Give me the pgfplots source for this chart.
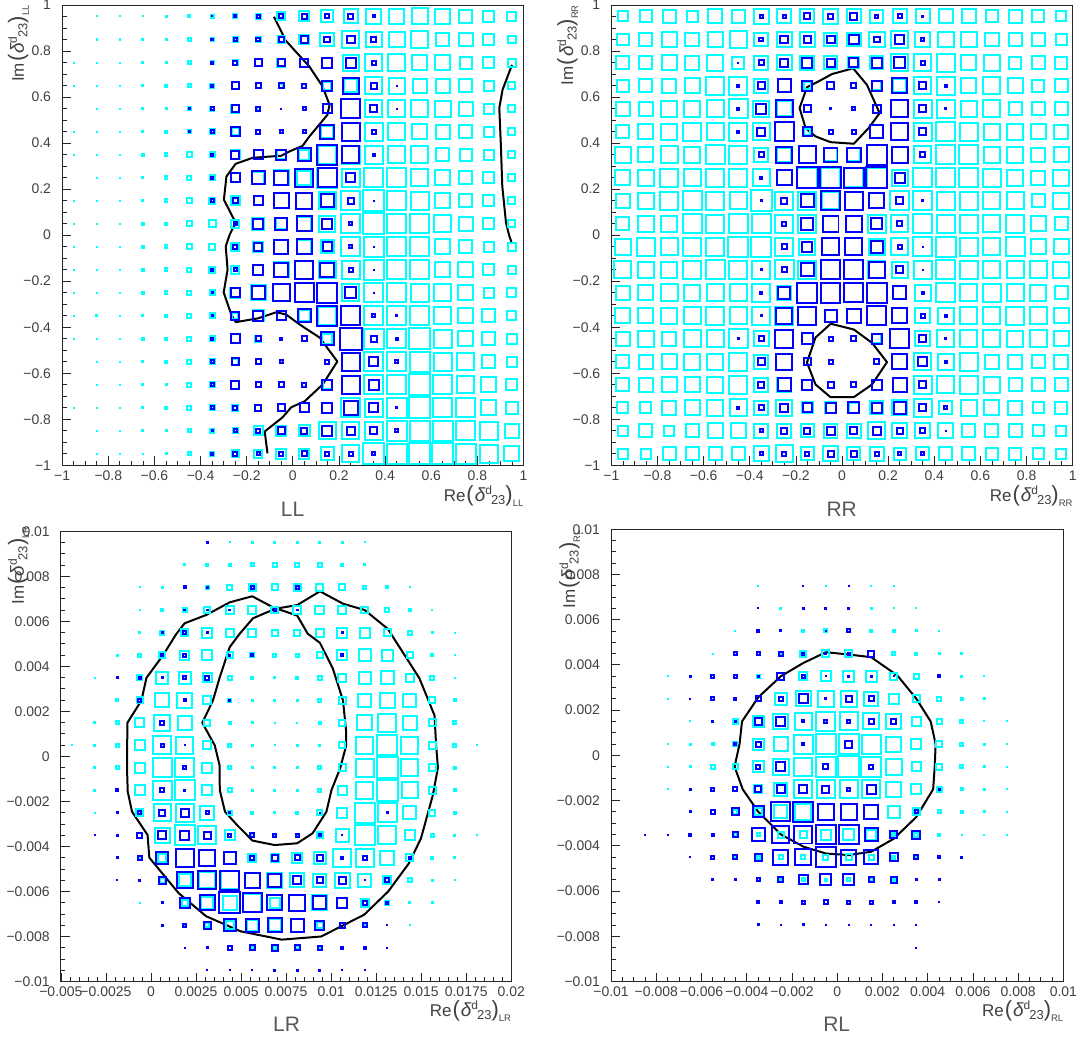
\documentclass[border=0pt]{standalone}
\usepackage{pgfplots}
\usepackage{pgfplotstable}
\usepackage{fontspec}
\setmainfont{Liberation Sans}
\pgfplotsset{compat=1.18}
\definecolor{cc}{RGB}{0,255,255}
\definecolor{bb}{RGB}{0,0,255}
\definecolor{tx}{gray}{0.25}
\newcommand\lab[2]{#1\kern1pt{\fontsize{22}{22}\selectfont (}\kern1pt{\itshape\fontsize{19}{19}\selectfont δ}\raisebox{7pt}{\fontsize{12}{12}\selectfont d}\kern-1pt\raisebox{-3.5pt}{\fontsize{13}{13}\selectfont 23}{\fontsize{22}{22}\selectfont )}\raisebox{-5pt}{\fontsize{9.5}{9.5}\selectfont #2}}
\pgfplotsset{
 panel/.style={scale only axis,clip=false,axis line style={line width=.9pt,black!85},
  tick align=inside,xtick pos=lower,ytick pos=left,major tick length=9pt,minor tick length=4.5pt,
  tick style={line width=.8pt,black!85},
  tick label style={font=\fontsize{14}{14}\selectfont,text=tx},
  xticklabel style={inner sep=0pt,anchor=north,text height=10pt},xticklabel shift=5pt,
  yticklabel style={inner sep=0pt,anchor=east},yticklabel shift=11pt},
 cellc/.style={scatter,only marks,mark=square,draw=cc,
  mark options={solid,draw=cc,fill=none,line width=2pt},
  visualization depends on={max(\thisrow{c}-2,0.02)/2 \as \ms},
  scatter/@pre marker code/.code={\scope[/tikz/mark size=\ms]},
  scatter/@post marker code/.code={\endscope},
  restrict expr to domain={\thisrow{c}}{0.5:100}},
 cellb/.style={scatter,only marks,mark=square,draw=bb,
  mark options={solid,draw=bb,fill=none,line width=2pt},
  visualization depends on={max(\thisrow{b}-2,0.02)/2 \as \ms},
  scatter/@pre marker code/.code={\scope[/tikz/mark size=\ms]},
  scatter/@post marker code/.code={\endscope},
  restrict expr to domain={\thisrow{b}}{0.5:100}},
 curve/.style={black,line width=2pt,no marks,line join=round}
}
\pgfplotstableread[row sep=\\]{x y c b\\
-.85 .95 2 0\\-.75 .95 2 0\\-.65 .95 2 0\\-.55 .95 3 0\\-.45 .95 4 0\\-.35 .95 5 2\\-.25 .95 6 4\\-.15 .95 7 5\\-.05 .95 10 6\\.05 .95 12 7\\.15 .95 14 6\\.25 .95 16 7\\.35 .95 17 4\\.45 .95 17 0\\.55 .95 18 0\\.65 .95 17 0\\.75 .95 15 0\\.85 .95 13 0\\.95 .95 11 0\\
-.85 .85 2 0\\-.75 .85 2 0\\-.65 .85 3 0\\-.55 .85 3 0\\-.45 .85 5 0\\-.35 .85 5 4\\-.25 .85 7 5\\-.15 .85 7 6\\-.05 .85 9 7\\.05 .85 12 9\\.15 .85 16 8\\.25 .85 19 10\\.35 .85 18 7\\.45 .85 18 0\\.55 .85 19 0\\.65 .85 15 0\\.75 .85 16 0\\.85 .85 13 0\\.95 .85 10 0\\
-.95 .75 2 0\\-.85 .75 2 0\\-.75 .75 2 0\\-.65 .75 3 0\\-.55 .75 3 0\\-.45 .75 5 0\\-.35 .75 5 4\\-.25 .75 7 6\\-.15 .75 9 9\\-.05 .75 10 9\\.05 .75 10 10\\.15 .75 12 12\\.25 .75 18 12\\.35 .75 19 6\\.45 .75 19 0\\.55 .75 17 0\\.65 .75 17 0\\.75 .75 14 0\\.85 .75 13 0\\.95 .75 10 0\\
-.95 .65 2 0\\-.85 .65 2 0\\-.75 .65 2 0\\-.65 .65 3 0\\-.55 .65 4 0\\-.45 .65 5 0\\-.35 .65 6 4\\-.25 .65 9 9\\-.15 .65 7 7\\-.05 .65 6 7\\.05 .65 0 6\\.15 .65 10 12\\.25 .65 15 18\\.35 .65 19 8\\.45 .65 18 2\\.55 .65 16 0\\.65 .65 16 0\\.75 .65 15 0\\.85 .65 12 0\\.95 .65 9 0\\
-.85 .55 2 0\\-.75 .55 2 0\\-.65 .55 3 0\\-.55 .55 3 0\\-.45 .55 5 3\\-.35 .55 6 5\\-.25 .55 10 9\\-.15 .55 5 6\\-.05 .55 0 1\\.05 .55 0 5\\.15 .55 0 11\\.25 .55 21 21\\.35 .55 19 9\\.45 .55 19 1\\.55 .55 19 0\\.65 .55 18 0\\.75 .55 16 0\\.85 .55 12 0\\.95 .55 9 0\\
-.95 .45 2 0\\-.85 .45 2 0\\-.75 .45 2 0\\-.65 .45 3 0\\-.55 .45 4 0\\-.45 .45 5 3\\-.35 .45 7 5\\-.25 .45 9 11\\-.15 .45 6 6\\-.05 .45 0 5\\.05 .45 0 5\\.15 .45 14 16\\.25 .45 0 20\\.35 .45 20 6\\.45 .45 19 0\\.55 .45 17 0\\.65 .45 16 0\\.75 .45 15 0\\.85 .45 12 0\\.95 .45 9 0\\
-.95 .35 2 0\\-.85 .35 2 0\\-.75 .35 2 0\\-.65 .35 4 0\\-.55 .35 5 0\\-.45 .35 7 0\\-.35 .35 7 4\\-.25 .35 11 10\\-.15 .35 11 11\\-.05 .35 11 12\\.05 .35 12 15\\.15 .35 20 22\\.25 .35 20 19\\.35 .35 20 4\\.45 .35 19 0\\.55 .35 19 0\\.65 .35 15 0\\.75 .35 14 0\\.85 .35 12 0\\.95 .35 9 0\\
-.85 .25 2 0\\-.75 .25 2 0\\-.65 .25 3 0\\-.55 .25 5 0\\-.45 .25 6 0\\-.35 .25 7 4\\-.25 .25 11 11\\-.15 .25 14 15\\-.05 .25 17 16\\.05 .25 16 20\\.15 .25 22 21\\.25 .25 20 11\\.35 .25 21 0\\.45 .25 21 0\\.55 .25 19 0\\.65 .25 17 0\\.75 .25 15 0\\.85 .25 13 0\\.95 .25 9 0\\
-.95 .15 2 0\\-.85 .15 2 0\\-.75 .15 2 0\\-.65 .15 3 0\\-.55 .15 5 0\\-.45 .15 7 0\\-.35 .15 8 5\\-.25 .15 11 7\\-.15 .15 11 11\\-.05 .15 17 17\\.05 .15 0 18\\.15 .15 19 15\\.25 .15 21 8\\.35 .15 23 1\\.45 .15 21 0\\.55 .15 20 0\\.65 .15 17 0\\.75 .15 15 0\\.85 .15 13 0\\.95 .15 9 0\\
-.95 .05 2 0\\-.85 .05 2 0\\-.75 .05 2 0\\-.65 .05 4 0\\-.55 .05 4 0\\-.45 .05 7 0\\-.35 .05 9 0\\-.25 .05 10 5\\-.15 .05 14 12\\-.05 .05 13 14\\.05 .05 16 17\\.15 .05 18 12\\.25 .05 21 5\\.35 .05 23 0\\.45 .05 21 0\\.55 .05 21 0\\.65 .05 19 0\\.75 .05 16 0\\.85 .05 13 0\\.95 .05 9 0\\
-.95 -.05 2 0\\-.85 -.05 2 0\\-.75 -.05 2 0\\-.65 -.05 4 0\\-.55 -.05 5 0\\-.45 -.05 7 0\\-.35 -.05 8 0\\-.25 -.05 10 6\\-.15 -.05 12 10\\-.05 -.05 16 16\\.05 -.05 16 17\\.15 -.05 15 11\\.25 -.05 21 5\\.35 -.05 22 1\\.45 -.05 21 0\\.55 -.05 21 0\\.65 -.05 17 0\\.75 -.05 15 0\\.85 -.05 12 0\\.95 -.05 10 0\\
-.95 -.15 2 0\\-.85 -.15 2 0\\-.75 -.15 2 0\\-.65 -.15 4 0\\-.55 -.15 5 0\\-.45 -.15 6 0\\-.35 -.15 8 4\\-.25 -.15 10 5\\-.15 -.15 12 12\\-.05 -.15 17 16\\.05 -.15 0 20\\.15 -.15 19 16\\.25 -.15 20 6\\.35 -.15 22 1\\.45 -.15 21 0\\.55 -.15 21 0\\.65 -.15 17 0\\.75 -.15 17 0\\.85 -.15 13 0\\.95 -.15 10 0\\
-.95 -.25 2 0\\-.85 -.25 2 0\\-.75 -.25 2 0\\-.65 -.25 4 0\\-.55 -.25 5 0\\-.45 -.25 6 0\\-.35 -.25 7 3\\-.25 -.25 12 11\\-.15 -.25 17 15\\-.05 -.25 19 19\\.05 -.25 21 21\\.15 -.25 0 22\\.25 -.25 19 13\\.35 -.25 21 2\\.45 -.25 21 0\\.55 -.25 20 0\\.65 -.25 19 0\\.75 -.25 17 0\\.85 -.25 12 0\\.95 -.25 11 0\\
-.95 -.35 1 0\\-.85 -.35 3 0\\-.75 -.35 2 0\\-.65 -.35 3 0\\-.55 -.35 4 0\\-.45 -.35 6 0\\-.35 -.35 7 3\\-.25 -.35 8 10\\-.15 -.35 13 12\\-.05 -.35 11 11\\.05 -.35 13 15\\.15 -.35 20 22\\.25 -.35 0 21\\.35 -.35 21 5\\.45 -.35 21 3\\.55 -.35 21 0\\.65 -.35 19 0\\.75 -.35 17 0\\.85 -.35 15 0\\.95 -.35 11 0\\
-.95 -.45 2 0\\-.85 -.45 2 0\\-.75 -.45 2 0\\-.65 -.45 4 0\\-.55 -.45 4 0\\-.45 -.45 6 0\\-.35 -.45 7 4\\-.25 -.45 11 11\\-.15 -.45 8 7\\-.05 -.45 0 4\\.05 -.45 0 7\\.15 -.45 12 15\\.25 -.45 0 24\\.35 -.45 22 8\\.45 -.45 21 4\\.55 -.45 23 0\\.65 -.45 20 0\\.75 -.45 17 0\\.85 -.45 15 0\\.95 -.45 12 0\\
-.85 -.55 2 0\\-.75 -.55 2 0\\-.65 -.55 3 0\\-.55 -.55 4 0\\-.45 -.55 6 0\\-.35 -.55 7 5\\-.25 -.55 8 9\\-.15 -.55 7 7\\-.05 -.55 0 5\\.15 -.55 6 6\\.25 -.55 0 20\\.35 -.55 21 11\\.45 -.55 21 5\\.55 -.55 22 0\\.65 -.55 20 0\\.75 -.55 19 0\\.85 -.55 15 0\\.95 -.55 12 0\\
-.85 -.65 2 0\\-.75 -.65 2 0\\-.65 -.65 3 0\\-.55 -.65 3 0\\-.45 -.65 6 0\\-.35 -.65 7 5\\-.25 -.65 10 10\\-.15 -.65 0 7\\-.05 -.65 0 7\\.05 -.65 0 6\\.15 -.65 11 12\\.25 -.65 0 20\\.35 -.65 21 12\\.45 -.65 21 0\\.55 -.65 23 0\\.65 -.65 21 0\\.75 -.65 19 0\\.85 -.65 17 0\\.95 -.65 13 0\\
-.95 -.75 1 0\\-.85 -.75 2 0\\-.75 -.75 2 0\\-.65 -.75 3 0\\-.55 -.75 4 0\\-.45 -.75 6 0\\-.35 -.75 7 5\\-.25 -.75 8 6\\-.15 -.75 0 8\\-.05 -.75 9 9\\.05 -.75 0 11\\.15 -.75 0 12\\.25 -.75 21 16\\.35 -.75 20 11\\.45 -.75 22 3\\.55 -.75 23 0\\.65 -.75 21 0\\.75 -.75 21 0\\.85 -.75 17 0\\.95 -.75 14 0\\
-.85 -.85 2 0\\-.75 -.85 2 0\\-.65 -.85 3 0\\-.55 -.85 3 0\\-.45 -.85 5 0\\-.35 -.85 6 3\\-.25 -.85 7 5\\-.15 -.85 11 6\\-.05 -.85 12 9\\.05 -.85 13 8\\.15 -.85 19 12\\.25 -.85 19 10\\.35 -.85 20 9\\.45 -.85 22 5\\.55 -.85 22 0\\.65 -.85 22 0\\.75 -.85 21 0\\.85 -.85 20 0\\.95 -.85 16 0\\
-.85 -.95 2 0\\-.75 -.95 2 0\\-.65 -.95 2 0\\-.55 -.95 3 0\\-.45 -.95 5 0\\-.35 -.95 6 4\\-.25 -.95 9 6\\-.15 -.95 10 5\\-.05 -.95 12 6\\.05 -.95 12 7\\.15 -.95 15 6\\.25 -.95 19 6\\.35 -.95 23 5\\.45 -.95 22 0\\.55 -.95 23 0\\.65 -.95 23 0\\.75 -.95 22 0\\.85 -.95 20 0\\.95 -.95 17 0\\
}\tLL
\pgfplotstableread[row sep=\\]{x y c b\\
-.95 .95 12 0\\-.85 .95 14 0\\-.75 .95 15 0\\-.65 .95 13 0\\-.55 .95 16 0\\-.45 .95 15 0\\-.35 .95 17 5\\-.25 .95 16 5\\-.15 .95 16 8\\-.05 .95 17 7\\.05 .95 16 9\\.15 .95 15 5\\.25 .95 16 6\\.35 .95 16 3\\.45 .95 16 0\\.55 .95 16 0\\.65 .95 14 0\\.75 .95 15 0\\.85 .95 14 0\\.95 .95 12 0\\
-.95 .85 14 0\\-.85 .85 15 0\\-.75 .85 17 0\\-.65 .85 16 0\\-.55 .85 17 0\\-.45 .85 19 0\\-.35 .85 16 6\\-.25 .85 17 10\\-.15 .85 17 9\\-.05 .85 15 10\\.05 .85 16 12\\.15 .85 18 8\\.25 .85 19 11\\.35 .85 17 5\\.45 .85 18 0\\.55 .85 18 0\\.65 .85 16 0\\.75 .85 15 0\\.85 .85 15 0\\.95 .85 13 0\\
-.95 .75 15 0\\-.85 .75 15 0\\-.75 .75 17 0\\-.65 .75 16 0\\-.55 .75 18 0\\-.45 .75 14 1\\-.35 .75 16 7\\-.25 .75 17 10\\-.15 .75 16 12\\-.05 .75 15 10\\.05 .75 13 11\\.15 .75 15 12\\.25 .75 19 13\\.35 .75 19 6\\.45 .75 20 0\\.55 .75 17 0\\.65 .75 18 0\\.75 .75 14 0\\.85 .75 15 0\\.95 .75 14 0\\
-.95 .65 14 0\\-.85 .65 15 0\\-.75 .65 16 0\\-.65 .65 17 0\\-.55 .65 20 0\\-.45 .65 20 4\\-.35 .65 16 9\\-.25 .65 15 15\\-.15 .65 9 12\\-.05 .65 0 9\\.05 .65 0 7\\.15 .65 11 12\\.25 .65 15 17\\.35 .65 19 9\\.45 .65 20 4\\.55 .65 17 0\\.65 .65 19 0\\.75 .65 17 0\\.85 .65 14 0\\.95 .65 15 0\\
-.95 .55 16 0\\-.85 .55 16 0\\-.75 .55 18 0\\-.65 .55 18 0\\-.55 .55 19 0\\-.45 .55 21 4\\-.35 .55 18 12\\-.25 .55 17 19\\-.15 .55 0 9\\-.05 .55 0 3\\.05 .55 0 5\\.15 .55 0 10\\.25 .55 0 19\\.35 .55 20 9\\.45 .55 20 3\\.55 .55 18 0\\.65 .55 19 0\\.75 .55 15 0\\.85 .55 15 0\\.95 .55 15 0\\
-.95 .45 15 0\\-.85 .45 17 0\\-.75 .45 18 0\\-.65 .45 20 0\\-.55 .45 19 0\\-.45 .45 20 4\\-.35 .45 19 10\\-.25 .45 0 21\\-.15 .45 8 11\\-.05 .45 0 6\\.05 .45 0 6\\.15 .45 15 15\\.25 .45 0 19\\.35 .45 20 9\\.45 .45 21 0\\.55 .45 20 0\\.65 .45 18 0\\.75 .45 18 0\\.85 .45 17 0\\.95 .45 16 0\\
-.95 .35 18 0\\-.85 .35 17 0\\-.75 .35 19 0\\-.65 .35 18 0\\-.55 .35 21 0\\-.45 .35 20 0\\-.35 .35 16 7\\-.25 .35 16 18\\-.15 .35 19 19\\-.05 .35 15 16\\.05 .35 15 16\\.15 .35 0 22\\.25 .35 18 18\\.35 .35 19 7\\.45 .35 21 0\\.55 .35 21 0\\.65 .35 18 0\\.75 .35 18 0\\.85 .35 16 0\\.95 .35 17 0\\
-.95 .25 17 0\\-.85 .25 18 0\\-.75 .25 20 0\\-.65 .25 19 0\\-.55 .25 20 0\\-.45 .25 20 0\\-.35 .25 19 4\\-.25 .25 17 17\\-.15 .25 22 23\\-.05 .25 22 23\\.05 .25 21 22\\.15 .25 22 23\\.25 .25 18 12\\.35 .25 21 0\\.45 .25 21 0\\.55 .25 21 0\\.65 .25 20 0\\.75 .25 18 0\\.85 .25 16 0\\.95 .25 18 0\\
-.95 .15 16 0\\-.85 .15 18 0\\-.75 .15 20 0\\-.65 .15 21 0\\-.55 .15 20 0\\-.45 .15 19 0\\-.35 .15 23 3\\-.25 .15 20 8\\-.15 .15 20 15\\-.05 .15 19 21\\.05 .15 20 20\\.15 .15 17 17\\.25 .15 21 9\\.35 .15 21 3\\.45 .15 20 0\\.55 .15 20 0\\.65 .15 19 0\\.75 .15 19 0\\.85 .15 15 0\\.95 .15 18 0\\
-.95 .05 15 0\\-.85 .05 18 0\\-.75 .05 18 0\\-.65 .05 21 0\\-.55 .05 20 0\\-.45 .05 21 0\\-.35 .05 21 0\\-.25 .05 20 6\\-.15 .05 20 14\\-.05 .05 18 18\\.05 .05 18 18\\.15 .05 20 13\\.25 .05 19 7\\.35 .05 21 0\\.45 .05 20 0\\.55 .05 20 0\\.65 .05 19 0\\.75 .05 20 0\\.85 .05 17 0\\.95 .05 15 0\\
-.95 -.05 18 0\\-.85 -.05 20 0\\-.75 -.05 19 0\\-.65 -.05 20 0\\-.55 -.05 20 0\\-.45 -.05 22 0\\-.35 -.05 22 0\\-.25 -.05 20 7\\-.15 -.05 18 12\\-.05 -.05 0 19\\.05 -.05 0 19\\.15 -.05 18 14\\.25 -.05 19 6\\.35 -.05 21 2\\.45 -.05 22 0\\.55 -.05 20 0\\.65 -.05 19 0\\.75 -.05 21 0\\.85 -.05 17 0\\.95 -.05 17 0\\
-.95 -.15 19 0\\-.85 -.15 18 0\\-.75 -.15 18 0\\-.65 -.15 20 0\\-.55 -.15 21 0\\-.45 -.15 20 0\\-.35 -.15 20 3\\-.25 -.15 21 7\\-.15 -.15 20 15\\-.05 -.15 0 21\\.05 -.15 0 21\\.15 -.15 19 18\\.25 -.15 18 9\\.35 -.15 20 2\\.45 -.15 21 0\\.55 -.15 20 0\\.65 -.15 19 0\\.75 -.15 19 0\\.85 -.15 19 0\\.95 -.15 18 0\\
-.95 -.25 16 0\\-.85 -.25 17 0\\-.75 -.25 19 0\\-.65 -.25 18 0\\-.55 -.25 19 0\\-.45 -.25 19 0\\-.35 -.25 20 4\\-.25 -.25 16 14\\-.15 -.25 0 22\\-.05 -.25 22 22\\.05 -.25 21 21\\.15 -.25 0 22\\.25 -.25 15 15\\.35 -.25 18 4\\.45 -.25 21 0\\.55 -.25 19 0\\.65 -.25 20 0\\.75 -.25 19 0\\.85 -.25 18 0\\.95 -.25 15 0\\
-.95 -.35 17 0\\-.85 -.35 17 0\\-.75 -.35 18 0\\-.65 -.35 19 0\\-.55 -.35 20 0\\-.45 -.35 19 0\\-.35 -.35 20 3\\-.25 -.35 20 18\\-.15 -.35 0 20\\-.05 -.35 0 14\\.05 -.35 0 16\\.15 -.35 0 21\\.25 -.35 0 17\\.35 -.35 17 6\\.45 -.35 18 4\\.55 -.35 19 0\\.65 -.35 19 0\\.75 -.35 20 0\\.85 -.35 19 0\\.95 -.35 17 0\\
-.95 -.45 16 0\\-.85 -.45 18 0\\-.75 -.45 16 0\\-.65 -.45 19 0\\-.55 -.45 19 0\\-.45 -.45 21 3\\-.35 -.45 17 7\\-.25 -.45 0 20\\-.15 -.45 0 13\\-.05 -.45 0 6\\.05 -.45 0 7\\.15 -.45 11 12\\.25 -.45 0 21\\.35 -.45 17 9\\.45 -.45 19 3\\.55 -.45 19 0\\.65 -.45 19 0\\.75 -.45 18 0\\.85 -.45 19 0\\.95 -.45 17 0\\
-.95 -.55 15 0\\-.85 -.55 16 0\\-.75 -.55 17 0\\-.65 -.55 18 0\\-.55 -.55 18 0\\-.45 -.55 20 0\\-.35 -.55 16 9\\-.25 -.55 0 18\\-.15 -.55 9 9\\-.05 -.55 0 6\\.15 -.55 0 7\\.25 -.55 0 17\\.35 -.55 19 11\\.45 -.55 18 4\\.55 -.55 20 0\\.65 -.55 16 0\\.75 -.55 16 0\\.85 -.55 15 0\\.95 -.55 16 0\\
-.95 -.65 15 0\\-.85 -.65 16 0\\-.75 -.65 17 0\\-.65 -.65 17 0\\-.55 -.65 18 0\\-.45 -.65 20 0\\-.35 -.65 16 8\\-.25 -.65 16 15\\-.15 -.65 0 12\\-.05 -.65 0 8\\.05 -.65 0 7\\.15 -.65 0 12\\.25 -.65 16 16\\.35 -.65 20 9\\.45 -.65 19 0\\.55 -.65 20 0\\.65 -.65 18 0\\.75 -.65 15 0\\.85 -.65 15 0\\.95 -.65 15 0\\
-.95 -.75 13 0\\-.85 -.75 13 0\\-.75 -.75 16 0\\-.65 -.75 17 0\\-.55 -.75 18 0\\-.45 -.75 19 4\\-.35 -.75 16 7\\-.25 -.75 18 10\\-.15 -.75 13 11\\-.05 -.75 13 12\\.05 -.75 12 13\\.15 -.75 15 12\\.25 -.75 17 14\\.35 -.75 20 9\\.45 -.75 15 5\\.55 -.75 18 0\\.65 -.75 17 0\\.75 -.75 16 0\\.85 -.75 13 0\\.95 -.75 14 0\\
-.95 -.85 12 0\\-.85 -.85 15 0\\-.75 -.85 12 0\\-.65 -.85 15 0\\-.55 -.85 17 0\\-.45 -.85 17 0\\-.35 -.85 16 5\\-.25 -.85 16 8\\-.15 -.85 15 8\\-.05 -.85 16 10\\.05 -.85 16 9\\.15 -.85 19 10\\.25 -.85 17 8\\.35 -.85 17 7\\.45 -.85 17 1\\.55 -.85 15 0\\.65 -.85 15 0\\.75 -.85 15 0\\.85 -.85 13 0\\.95 -.85 12 0\\
-.95 -.95 12 0\\-.85 -.95 12 0\\-.75 -.95 15 0\\-.65 -.95 15 0\\-.55 -.95 15 0\\-.45 -.95 15 0\\-.35 -.95 17 5\\-.25 -.95 19 6\\-.15 -.95 15 6\\-.05 -.95 17 8\\.05 -.95 15 8\\.15 -.95 16 6\\.25 -.95 14 5\\.35 -.95 15 5\\.45 -.95 15 0\\.55 -.95 15 0\\.65 -.95 14 0\\.75 -.95 14 0\\.85 -.95 13 0\\.95 -.95 12 0\\
}\tRR
\pgfplotstableread[row sep=\\]{x y c b\\
3.125 9.5 2 3\\4.375 9.5 2 0\\5.625 9.5 3 0\\6.875 9.5 3 0\\8.125 9.5 3 0\\9.375 9.5 3 0\\10.625 9.5 3 0\\11.875 9.5 1 0\\
1.875 8.5 3 0\\3.125 8.5 4 0\\4.375 8.5 4 0\\5.625 8.5 5 0\\6.875 8.5 6 0\\8.125 8.5 6 0\\9.375 8.5 6 0\\10.625 8.5 4 0\\11.875 8.5 3 0\\
-.625 7.5 2 0\\.625 7.5 3 0\\1.875 7.5 0 4\\3.125 7.5 5 3\\4.375 7.5 7 0\\5.625 7.5 9 5\\6.875 7.5 8 0\\8.125 7.5 9 5\\9.375 7.5 9 0\\10.625 7.5 8 0\\11.875 7.5 5 0\\13.125 7.5 4 0\\14.375 7.5 2 0\\
-.625 6.5 2 0\\.625 6.5 4 0\\1.875 6.5 6 3\\3.125 6.5 8 3\\4.375 6.5 10 3\\5.625 6.5 10 0\\6.875 6.5 9 4\\8.125 6.5 10 3\\9.375 6.5 11 0\\10.625 6.5 10 0\\11.875 6.5 9 0\\13.125 6.5 6 0\\14.375 6.5 4 0\\15.625 6.5 2 0\\
-.625 5.5 3 0\\.625 5.5 6 3\\1.875 5.5 9 5\\3.125 5.5 12 3\\4.375 5.5 10 0\\5.625 5.5 10 0\\6.875 5.5 8 0\\8.125 5.5 8 0\\9.375 5.5 10 0\\10.625 5.5 12 3\\11.875 5.5 12 0\\13.125 5.5 9 0\\14.375 5.5 6 0\\15.625 5.5 3 0\\16.875 5.5 1 0\\
-1.875 4.5 3 0\\-.625 4.5 5 0\\.625 4.5 8 4\\1.875 4.5 11 5\\3.125 4.5 12 0\\4.375 4.5 8 3\\5.625 4.5 6 4\\6.875 4.5 5 0\\8.125 4.5 5 0\\9.375 4.5 8 0\\10.625 4.5 12 4\\11.875 4.5 14 0\\13.125 4.5 13 0\\14.375 4.5 8 0\\15.625 4.5 4 0\\16.875 4.5 1 0\\
-3.125 3.5 1 0\\-1.875 3.5 0 3\\-.625 3.5 7 4\\.625 3.5 14 3\\1.875 3.5 14 5\\3.125 3.5 11 6\\4.375 3.5 6 0\\5.625 3.5 4 0\\6.875 3.5 3 0\\8.125 3.5 4 0\\9.375 3.5 6 0\\10.625 3.5 10 0\\11.875 3.5 14 0\\13.125 3.5 15 0\\14.375 3.5 10 0\\15.625 3.5 6 0\\16.875 3.5 2 0\\
-1.875 2.5 4 0\\-.625 2.5 8 5\\.625 2.5 16 0\\1.875 2.5 17 4\\3.125 2.5 10 0\\4.375 2.5 5 3\\5.625 2.5 3 0\\6.875 2.5 3 0\\8.125 2.5 3 0\\9.375 2.5 5 0\\10.625 2.5 9 0\\11.875 2.5 15 0\\13.125 2.5 17 0\\14.375 2.5 15 0\\15.625 2.5 8 0\\16.875 2.5 4 0\\
-3.125 1.5 3 0\\-1.875 1.5 5 0\\-.625 1.5 11 0\\.625 1.5 18 6\\1.875 1.5 16 0\\3.125 1.5 8 0\\4.375 1.5 4 0\\5.625 1.5 3 0\\6.875 1.5 2 0\\8.125 1.5 2 0\\9.375 1.5 4 0\\10.625 1.5 8 0\\11.875 1.5 17 0\\13.125 1.5 20 0\\14.375 1.5 16 0\\15.625 1.5 9 0\\16.875 1.5 5 0\\
-4.375 .5 1 0\\-3.125 .5 3 0\\-1.875 .5 5 0\\-.625 .5 12 0\\.625 .5 20 5\\1.875 .5 19 1\\3.125 .5 10 0\\4.375 .5 5 0\\5.625 .5 3 0\\6.875 .5 2 0\\8.125 .5 3 0\\9.375 .5 3 0\\10.625 .5 8 0\\11.875 .5 19 0\\13.125 .5 22 0\\14.375 .5 19 0\\15.625 .5 9 0\\16.875 .5 5 0\\18.125 .5 2 0\\
-3.125 -.5 3 0\\-1.875 -.5 5 0\\-.625 -.5 12 0\\.625 -.5 21 0\\1.875 -.5 21 5\\3.125 -.5 12 0\\4.375 -.5 5 0\\5.625 -.5 3 0\\6.875 -.5 3 0\\8.125 -.5 3 0\\9.375 -.5 5 0\\10.625 -.5 9 0\\11.875 -.5 20 0\\13.125 -.5 23 0\\14.375 -.5 19 0\\15.625 -.5 9 0\\16.875 -.5 4 0\\
-3.125 -1.5 3 0\\-1.875 -1.5 0 4\\-.625 -1.5 12 0\\.625 -1.5 21 6\\1.875 -1.5 22 3\\3.125 -1.5 12 0\\4.375 -1.5 6 0\\5.625 -1.5 3 0\\6.875 -1.5 3 0\\8.125 -1.5 3 0\\9.375 -1.5 5 0\\10.625 -1.5 11 0\\11.875 -1.5 19 0\\13.125 -1.5 23 0\\14.375 -1.5 18 0\\15.625 -1.5 9 0\\16.875 -1.5 4 0\\
-3.125 -2.5 1 0\\-1.875 -2.5 0 3\\-.625 -2.5 9 5\\.625 -2.5 19 8\\1.875 -2.5 20 10\\3.125 -2.5 16 5\\4.375 -2.5 6 3\\5.625 -2.5 4 0\\6.875 -2.5 3 0\\8.125 -2.5 4 0\\9.375 -2.5 7 1\\10.625 -2.5 12 0\\11.875 -2.5 22 0\\13.125 -2.5 21 3\\14.375 -2.5 15 0\\15.625 -2.5 8 0\\16.875 -2.5 4 0\\
-3.125 -3.5 0 1\\-1.875 -3.5 0 3\\-.625 -3.5 0 7\\.625 -3.5 17 10\\1.875 -3.5 22 11\\3.125 -3.5 20 9\\4.375 -3.5 12 5\\5.625 -3.5 5 6\\6.875 -3.5 4 5\\8.125 -3.5 3 5\\9.375 -3.5 8 4\\10.625 -3.5 15 1\\11.875 -3.5 22 0\\13.125 -3.5 20 0\\14.375 -3.5 12 0\\15.625 -3.5 5 0\\16.875 -3.5 3 0\\18.125 -3.5 2 0\\
-1.875 -4.5 0 3\\-.625 -4.5 4 6\\.625 -4.5 10 14\\1.875 -4.5 0 20\\3.125 -4.5 0 18\\4.375 -4.5 0 14\\5.625 -4.5 10 6\\6.875 -4.5 10 8\\8.125 -4.5 12 7\\9.375 -4.5 14 8\\10.625 -4.5 20 4\\11.875 -4.5 20 6\\13.125 -4.5 16 0\\14.375 -4.5 9 4\\15.625 -4.5 4 0\\16.875 -4.5 3 0\\
-1.875 -5.5 0 1\\-.625 -5.5 0 3\\.625 -5.5 7 9\\1.875 -5.5 14 18\\3.125 -5.5 18 20\\4.375 -5.5 20 21\\5.625 -5.5 0 17\\6.875 -5.5 17 15\\8.125 -5.5 16 10\\9.375 -5.5 15 8\\10.625 -5.5 17 9\\11.875 -5.5 15 2\\13.125 -5.5 10 6\\14.375 -5.5 6 0\\15.625 -5.5 3 0\\16.875 -5.5 1 0\\
-.625 -6.5 2 0\\.625 -6.5 0 3\\1.875 -6.5 8 12\\3.125 -6.5 14 17\\4.375 -6.5 16 23\\5.625 -6.5 20 21\\6.875 -6.5 12 17\\8.125 -6.5 0 18\\9.375 -6.5 17 15\\10.625 -6.5 12 12\\11.875 -6.5 10 6\\13.125 -6.5 6 4\\14.375 -6.5 3 0\\15.625 -6.5 3 0\\
.625 -7.5 0 3\\1.875 -7.5 3 5\\3.125 -7.5 6 9\\4.375 -7.5 10 14\\5.625 -7.5 13 15\\6.875 -7.5 14 16\\8.125 -7.5 15 15\\9.375 -7.5 8 11\\10.625 -7.5 7 7\\11.875 -7.5 4 6\\13.125 -7.5 0 2\\14.375 -7.5 1 0\\
1.875 -8.5 0 2\\3.125 -8.5 0 3\\4.375 -8.5 0 6\\5.625 -8.5 4 7\\6.875 -8.5 5 8\\8.125 -8.5 5 7\\9.375 -8.5 4 6\\10.625 -8.5 0 4\\11.875 -8.5 0 4\\13.125 -8.5 0 2\\
3.125 -9.5 0 2\\4.375 -9.5 0 2\\5.625 -9.5 0 2\\6.875 -9.5 0 3\\8.125 -9.5 0 3\\9.375 -9.5 0 3\\10.625 -9.5 0 2\\11.875 -9.5 0 2\\
}\tLR
\pgfplotstableread[row sep=\\]{x y c b\\
-3.5 7.5 2 0\\-1.5 7.5 0 2\\-.5 7.5 2 0\\.5 7.5 0 2\\1.5 7.5 1 0\\2.5 7.5 1 0\\
-3.5 6.5 0 2\\-2.5 6.5 3 0\\-1.5 6.5 0 3\\-.5 6.5 3 3\\.5 6.5 0 3\\1.5 6.5 3 0\\2.5 6.5 2 0\\3.5 6.5 2 0\\
-4.5 5.5 2 0\\-3.5 5.5 0 4\\-2.5 5.5 0 3\\-1.5 5.5 4 0\\-.5 5.5 5 2\\.5 5.5 0 5\\1.5 5.5 4 0\\2.5 5.5 4 0\\3.5 5.5 3 0\\4.5 5.5 2 0\\
-5.5 4.5 1 0\\-4.5 4.5 0 5\\-3.5 4.5 0 5\\-2.5 4.5 2 6\\-1.5 4.5 8 4\\-.5 4.5 9 3\\.5 4.5 9 4\\1.5 4.5 0 8\\2.5 4.5 5 0\\3.5 4.5 4 0\\4.5 4.5 3 0\\5.5 4.5 3 0\\
-7.5 3.5 2 0\\-6.5 3.5 0 3\\-5.5 3.5 0 5\\-4.5 3.5 0 5\\-3.5 3.5 5 3\\-2.5 3.5 0 9\\-1.5 3.5 10 5\\-.5 3.5 12 1\\.5 3.5 13 3\\1.5 3.5 13 3\\2.5 3.5 9 2\\3.5 3.5 7 0\\4.5 3.5 0 4\\5.5 3.5 3 0\\6.5 3.5 2 0\\
-7.5 2.5 1 0\\-6.5 2.5 0 2\\-5.5 2.5 0 5\\-4.5 2.5 0 4\\-3.5 2.5 7 7\\-2.5 2.5 14 6\\-1.5 2.5 17 11\\-.5 2.5 18 3\\.5 2.5 18 8\\1.5 2.5 16 7\\2.5 2.5 12 0\\3.5 2.5 9 0\\4.5 2.5 6 0\\5.5 2.5 4 0\\6.5 2.5 3 0\\
-6.5 1.5 2 0\\-5.5 1.5 0 3\\-4.5 1.5 7 3\\-3.5 1.5 13 9\\-2.5 1.5 17 11\\-1.5 1.5 19 4\\-.5 1.5 21 5\\.5 1.5 20 5\\1.5 1.5 18 7\\2.5 1.5 17 7\\3.5 1.5 11 0\\4.5 1.5 7 0\\5.5 1.5 5 0\\6.5 1.5 2 0\\7.5 1.5 1 0\\
-7.5 .5 1 0\\-6.5 .5 3 0\\-5.5 .5 4 0\\-4.5 .5 6 4\\-3.5 .5 13 7\\-2.5 .5 16 0\\-1.5 .5 21 4\\-.5 .5 22 0\\.5 .5 22 9\\1.5 .5 21 0\\2.5 .5 17 0\\3.5 .5 12 0\\4.5 .5 8 0\\5.5 .5 5 0\\6.5 .5 3 0\\7.5 .5 2 0\\
-7.5 -.5 2 0\\-6.5 -.5 3 0\\-5.5 -.5 6 0\\-4.5 -.5 7 0\\-3.5 -.5 13 6\\-2.5 -.5 18 11\\-1.5 -.5 20 0\\-.5 -.5 22 7\\.5 -.5 23 0\\1.5 -.5 22 6\\2.5 -.5 18 0\\3.5 -.5 11 0\\4.5 -.5 8 0\\5.5 -.5 5 0\\6.5 -.5 3 0\\7.5 -.5 2 0\\
-7.5 -1.5 1 0\\-6.5 -1.5 0 3\\-5.5 -1.5 0 5\\-4.5 -1.5 0 6\\-3.5 -1.5 10 8\\-2.5 -1.5 15 10\\-1.5 -1.5 20 10\\-.5 -1.5 20 9\\.5 -1.5 20 5\\1.5 -1.5 20 11\\2.5 -1.5 17 0\\3.5 -1.5 12 0\\4.5 -1.5 7 3\\5.5 -1.5 4 0\\6.5 -1.5 3 0\\7.5 -1.5 1 0\\
-6.5 -2.5 0 3\\-5.5 -2.5 0 6\\-4.5 -2.5 6 9\\-3.5 -2.5 9 13\\-2.5 -2.5 15 21\\-1.5 -2.5 18 22\\-.5 -2.5 0 18\\.5 -2.5 0 18\\1.5 -2.5 0 16\\2.5 -2.5 14 0\\3.5 -2.5 9 5\\4.5 -2.5 5 0\\5.5 -2.5 4 0\\6.5 -2.5 3 0\\7.5 -2.5 1 0\\
-8.5 -3.5 0 1\\-7.5 -3.5 0 2\\-6.5 -3.5 0 4\\-5.5 -3.5 0 4\\-4.5 -3.5 5 7\\-3.5 -3.5 5 15\\-2.5 -3.5 8 19\\-1.5 -3.5 9 20\\-.5 -3.5 12 22\\.5 -3.5 13 22\\1.5 -3.5 12 15\\2.5 -3.5 5 9\\3.5 -3.5 6 10\\4.5 -3.5 4 0\\5.5 -3.5 2 0\\6.5 -3.5 2 0\\7.5 -3.5 1 0\\
-6.5 -4.5 0 2\\-5.5 -4.5 0 5\\-4.5 -4.5 4 6\\-3.5 -4.5 5 9\\-2.5 -4.5 6 17\\-1.5 -4.5 6 18\\-.5 -4.5 7 22\\.5 -4.5 8 17\\1.5 -4.5 7 16\\2.5 -4.5 5 10\\3.5 -4.5 2 6\\4.5 -4.5 0 4\\5.5 -4.5 0 3\\
-5.5 -5.5 0 3\\-4.5 -5.5 0 3\\-3.5 -5.5 0 5\\-2.5 -5.5 3 7\\-1.5 -5.5 5 11\\-.5 -5.5 4 13\\.5 -5.5 5 13\\1.5 -5.5 5 7\\2.5 -5.5 4 8\\3.5 -5.5 0 3\\4.5 -5.5 0 3\\
-3.5 -6.5 0 4\\-2.5 -6.5 0 4\\-1.5 -6.5 0 5\\-.5 -6.5 0 6\\.5 -6.5 0 5\\1.5 -6.5 0 5\\2.5 -6.5 0 4\\3.5 -6.5 0 4\\4.5 -6.5 0 1\\
-3.5 -7.5 0 3\\-2.5 -7.5 0 2\\-1.5 -7.5 0 3\\-.5 -7.5 0 2\\.5 -7.5 0 2\\1.5 -7.5 0 2\\2.5 -7.5 0 2\\3.5 -7.5 0 1\\
3.5 -8.5 0 1\\
}\tRL
\begin{document}
\begin{tikzpicture}[x=1pt,y=1pt]
\path (0,0) rectangle (1077,1040);
% LL
\begin{axis}[panel,at={(62.3pt,574pt)},anchor=south west,width=462pt,height=461pt,
 xmin=-1,xmax=1,ymin=-1,ymax=1,
 xtick={-1,-.8,-.6,-.4,-.2,0,.2,.4,.6,.8,1},ytick={-1,-.8,-.6,-.4,-.2,0,.2,.4,.6,.8,1},
 xticklabels={−1,−0.8,−0.6,−0.4,−0.2,0,0.2,0.4,0.6,0.8,1},yticklabels={−1,−0.8,−0.6,−0.4,−0.2,0,0.2,0.4,0.6,0.8,1},
 minor x tick num=3,minor y tick num=3]
\addplot[cellc] table[x=x,y=y]{\tLL};
\addplot[cellb] table[x=x,y=y]{\tLL};
\addplot[curve] coordinates {(-.082,.949)(-.046,.877)(-.036,.851)(.072,.732)(.129,.646)(.159,.566)(.150,.523)(.072,.429)(.042,.388)(-.014,.364)(-.05,.345)(-.174,.336)(-.248,.310)(-.288,.255)(-.299,.154)(-.248,.054)(-.274,.002)(-.291,-.049)(-.283,-.150)(-.30,-.249)(-.267,-.345)(-.248,-.378)(-.153,-.362)(-.072,-.335)(-.029,-.345)(.029,-.388)(.116,-.445)(.193,-.549)(.129,-.649)(.051,-.722)(-.007,-.748)(-.045,-.792)(-.122,-.853)(-.11,-.948)};
\addplot[curve] coordinates {(.95,.74)(.909,.631)(.895,.553)(.902,.385)(.908,.212)(.924,.054)(.938,-.002)(.95,-.037)};
\end{axis}
% RR
\begin{axis}[panel,at={(612.3pt,574pt)},anchor=south west,width=462pt,height=461pt,
 xmin=-1,xmax=1,ymin=-1,ymax=1,
 xtick={-1,-.8,-.6,-.4,-.2,0,.2,.4,.6,.8,1},ytick={-1,-.8,-.6,-.4,-.2,0,.2,.4,.6,.8,1},
 xticklabels={−1,−0.8,−0.6,−0.4,−0.2,0,0.2,0.4,0.6,0.8,1},yticklabels={−1,−0.8,−0.6,−0.4,−0.2,0,0.2,0.4,0.6,0.8,1},
 minor x tick num=3,minor y tick num=3]
\addplot[cellc] table[x=x,y=y]{\tRR};
\addplot[cellb] table[x=x,y=y]{\tRR};
\addplot[curve] coordinates {(.048,.725)(-.043,.70)(-.104,.667)(-.152,.643)(-.184,.552)(-.158,.465)(-.115,.429)(-.05,.404)(.051,.397)(.115,.465)(.163,.530)(.108,.653)(.048,.725)};
\addplot[curve] coordinates {(-.049,-.385)(.051,-.41)(.13,-.468)(.195,-.552)(.13,-.649)(.051,-.704)(-.05,-.704)(-.115,-.649)(-.152,-.553)(-.115,-.445)(-.049,-.385)};
\end{axis}
% LR (values in units of 0.001)
\begin{axis}[panel,at={(61pt,57pt)},anchor=south west,width=451pt,height=451pt,
 xmin=-5,xmax=20,ymin=-10,ymax=10,
 xtick={-5,-2.5,0,2.5,5,7.5,10,12.5,15,17.5,20},ytick={-10,-8,-6,-4,-2,0,2,4,6,8,10},
 xticklabels={−0.005,−0.0025,0,0.0025,0.005,0.0075,0.01,0.0125,0.015,0.0175,0.02},yticklabels={−0.01,−0.008,−0.006,−0.004,−0.002,0,0.002,0.004,0.006,0.008,0.01},
 minor x tick num=4,minor y tick num=3]
\addplot[cellc] table[x=x,y=y]{\tLR};
\addplot[cellb] table[x=x,y=y]{\tLR};
\addplot[curve] coordinates {(9.38,7.33)(10.66,6.78)(11.86,6.5)(13.15,5.66)(14.9,3.47)(15.74,1.82)(15.83,.49)(15.93,-.5)(15.65,-1.72)(14.99,-3.64)(14.32,-4.75)(13.17,-6.0)(11.84,-7.03)(9.45,-8.0)(7.26,-8.14)(4.97,-7.77)(3.06,-7.1)(1.53,-6.07)(-.09,-4.5)(-.19,-3.49)(-1.05,-2.46)(-1.29,-1.57)(-1.33,-.54)(-1.31,1.49)(-.53,2.48)(-.25,3.49)(.67,4.49)(1.41,5.44)(1.87,5.91)(3.07,6.28)(4.37,6.84)(5.62,7.11)(6.77,6.62)(8.12,6.25)(8.7,5.45)(9.38,5.04)(10.1,3.89)(10.66,2.48)(10.84,1.08)(10.84,.49)(10.5,-.54)(10.02,-1.5)(9.74,-2.46)(8.97,-3.42)(8.12,-3.86)(6.87,-3.94)(5.63,-3.74)(4.78,-3.05)(4.11,-2.46)(3.82,-1.5)(3.81,-.4)(3.54,.49)(2.85,1.49)(3.44,2.48)(3.81,3.49)(4.37,4.85)(4.92,5.44)(5.66,6.13)(6.88,6.55)(8.12,6.72)(9.38,7.33)};
\end{axis}
% RL (values in units of 0.001)
\begin{axis}[panel,at={(612pt,57pt)},anchor=south west,width=453pt,height=453pt,
 xmin=-10,xmax=10,ymin=-10,ymax=10,
 xtick={-10,-8,-6,-4,-2,0,2,4,6,8,10},ytick={-10,-8,-6,-4,-2,0,2,4,6,8,10},
 xticklabels={−0.01,−0.008,−0.006,−0.004,−0.002,0,0.002,0.004,0.006,0.008,0.01},yticklabels={−0.01,−0.008,−0.006,−0.004,−0.002,0,0.002,0.004,0.006,0.008,0.01},
 minor x tick num=3,minor y tick num=3]
\addplot[cellc] table[x=x,y=y]{\tRL};
\addplot[cellb] table[x=x,y=y]{\tRL};
\addplot[curve] coordinates {(-.5,4.56)(.5,4.46)(1.5,4.34)(2.66,3.53)(3.5,2.5)(4.13,1.5)(4.35,.5)(4.31,-.5)(4.24,-1.5)(3.5,-2.72)(2.51,-3.68)(1.5,-4.26)(.5,-4.41)(-.5,-4.34)(-1.49,-4.04)(-2.49,-3.5)(-3.49,-2.5)(-4.18,-1.5)(-4.54,-.5)(-4.32,.5)(-4.21,1.5)(-3.49,2.57)(-2.49,3.5)(-1.49,4.09)(-.5,4.56)};
\end{axis}
% labels
\tikzset{alab/.style={inner sep=0pt,text=tx,font=\fontsize{17}{17}\selectfont},ttl/.style={inner sep=0pt,text=black!65,font=\fontsize{21}{21}\selectfont}}
\node[alab,anchor=base east] at (524.3,1040-502) {\lab{Re}{LL}};
\node[alab,anchor=base east] at (1074.3,1040-502) {\lab{Re}{RR}};
\node[alab,anchor=base east] at (512,1040-1018) {\lab{Re}{LR}};
\node[alab,anchor=base east] at (1065,1040-1018) {\lab{Re}{RL}};
\node[alab,anchor=base east,rotate=90] at (24,1040-5) {\lab{Im}{LL}};
\node[alab,anchor=base east,rotate=90] at (574,1040-5) {\lab{Im}{RR}};
\node[alab,anchor=base east,rotate=90] at (24,1040-527) {\lab{Im}{LR}};
\node[alab,anchor=base east,rotate=90] at (576,1040-531) {\lab{Im}{RL}};
\node[ttl,anchor=base] at (293,1040-517) {LL};
\node[ttl,anchor=base] at (843,1040-517) {RR};
\node[ttl,anchor=base] at (287,1040-1033) {LR};
\node[ttl,anchor=base] at (838,1040-1033) {RL};
\end{tikzpicture}
\end{document}
